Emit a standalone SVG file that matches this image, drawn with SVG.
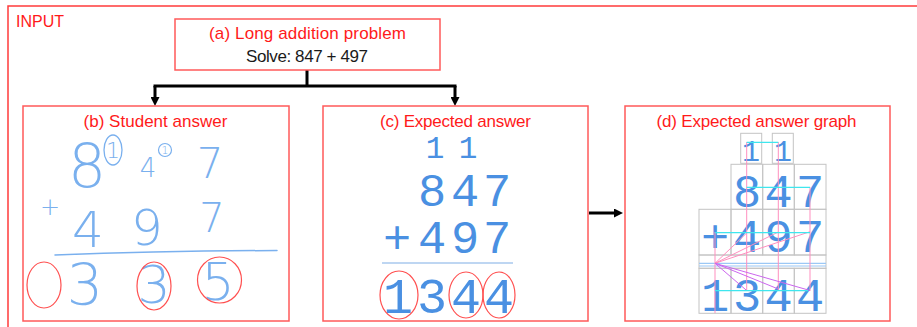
<svg xmlns="http://www.w3.org/2000/svg" width="917" height="327" viewBox="0 0 917 327">
<defs>
<style>
.frame{fill:none;stroke:#ff3b3b;stroke-width:1.5}
.box{fill:#fff;stroke:#ff5a5a;stroke-width:1.5}
.title{font-family:"Liberation Sans",Arial,sans-serif;font-size:17px;fill:#ff1a1a;text-anchor:middle}
.black{font-family:"Liberation Sans",Arial,sans-serif;font-size:17px;fill:#1a1a1a;text-anchor:middle}
.mono{font-family:"Liberation Mono","Courier New",monospace;fill:#4a90e2;text-anchor:middle}
.hand{font-family:"DejaVu Sans",sans-serif;font-weight:200;fill:#7ab0ee;text-anchor:middle}
.handline{fill:none;stroke:#7ab0ee;stroke-width:1.5;stroke-linecap:round}
.circ{fill:none;stroke:#ff5050;stroke-width:1.2}
.grid{fill:none;stroke:#c4c4c4;stroke-width:1}
.conn{fill:none;stroke:#000;stroke-width:3}
.pink{stroke:#ff8fbf;stroke-width:1;fill:none}
.cyan{stroke:#3fe6ee;stroke-width:1.2;fill:none}
.purple{stroke:#cc66ee;stroke-width:1;fill:none}
.lblue{stroke:#9cc8f5;stroke-width:1.2;fill:none}
</style>
<marker id="ah" viewBox="0 0 10 10" refX="0" refY="5" markerWidth="9" markerHeight="9" markerUnits="userSpaceOnUse" orient="auto">
<path d="M0,0 L10,5 L0,10 z" fill="#000"/>
</marker>
</defs>
<rect width="917" height="327" fill="#fff"/>
<g id="input-frame">
<rect class="frame" x="8" y="6" width="930" height="340"/>
<text x="16" y="27" font-family="Liberation Sans,Arial,sans-serif" font-size="16" fill="#ff1a1a">INPUT</text>
</g>

<g id="connectors">
<path class="conn" d="M307,70 V86 M153.5,86 H456.5"/>
<path class="conn" d="M155,86 V97" marker-end="url(#ah)"/>
<path class="conn" d="M455,86 V97" marker-end="url(#ah)"/>
<path class="conn" d="M589,213 H614" marker-end="url(#ah)"/>
</g>

<g id="node-a">
<rect class="box" x="175" y="19" width="265" height="51"/>
<text class="title" x="307.5" y="39" textLength="197">(a) Long addition problem</text>
<text class="black" x="307" y="62" textLength="122">Solve: 847 + 497</text>
</g>

<g id="node-b">
<rect class="box" x="23" y="106" width="266" height="215"/>
<text class="title" x="155.5" y="127" textLength="144">(b) Student answer</text>
<text class="hand" x="87" y="187" font-size="60">8</text>
<ellipse cx="113" cy="150" rx="9" ry="15" fill="none" stroke="#7ab0ee" stroke-width="1.3"/>
<text class="hand" x="113" y="158" font-size="22">1</text>
<text class="hand" x="148" y="177" font-size="26">4</text>
<circle cx="165" cy="150" r="6.5" fill="none" stroke="#7ab0ee" stroke-width="1.2"/>
<text class="hand" x="165" y="154" font-size="11">1</text>
<text class="hand" x="210" y="178" font-size="42">7</text>
<text class="hand" x="50" y="215" font-size="24">+</text>
<text class="hand" x="88" y="247" font-size="50">4</text>
<text class="hand" x="147" y="245" font-size="50">9</text>
<text class="hand" x="212" y="232" font-size="40">7</text>
<path class="handline" d="M55,255 Q160,251 277,250.5"/>
<text class="hand" x="85" y="305" font-size="57">3</text>
<text class="hand" x="154" y="303" font-size="52">3</text>
<text class="hand" x="218" y="300" font-size="52">5</text>
<ellipse class="circ" cx="44" cy="285" rx="17" ry="23"/>
<ellipse class="circ" cx="154" cy="286" rx="17" ry="24"/>
<ellipse class="circ" cx="219.5" cy="280" rx="22" ry="23"/>
</g>

<g id="node-c">
<rect class="box" x="323" y="106" width="265" height="215"/>
<text class="title" x="455.5" y="127" textLength="151">(c) Expected answer</text>
<text class="mono" x="435" y="158" font-size="31">1</text>
<text class="mono" x="468" y="158" font-size="31">1</text>
<text class="mono" x="432" y="206" font-size="47">8</text>
<text class="mono" x="465" y="206" font-size="47">4</text>
<text class="mono" x="497" y="206" font-size="47">7</text>
<text class="mono" x="397" y="253" font-size="47">+</text>
<text class="mono" x="432" y="253" font-size="47">4</text>
<text class="mono" x="465" y="253" font-size="47">9</text>
<text class="mono" x="497" y="253" font-size="47">7</text>
<line x1="382" y1="263" x2="513" y2="263" stroke="#a8c8ee" stroke-width="1.5"/>
<text class="mono" x="398" y="313" font-size="50">1</text>
<text class="mono" x="432" y="313" font-size="50">3</text>
<text class="mono" x="466" y="313" font-size="50">4</text>
<text class="mono" x="499" y="313" font-size="50">4</text>
<ellipse class="circ" cx="399" cy="295" rx="19" ry="24"/>
<ellipse class="circ" cx="466" cy="295" rx="17" ry="23"/>
<ellipse class="circ" cx="499" cy="295" rx="16" ry="23"/>
</g>

<g id="node-d">
<rect class="box" x="625" y="106" width="265" height="215"/>
<text class="title" x="756.5" y="127" textLength="200">(d) Expected answer graph</text>
<g class="grid">
<rect x="740.7" y="133.3" width="21" height="30"/>
<rect x="772.3" y="133.3" width="21" height="30"/>
<rect x="731" y="164.3" width="31.7" height="45"/>
<rect x="762.7" y="164.3" width="31.6" height="45"/>
<rect x="794.3" y="164.3" width="31.7" height="45"/>
<rect x="699" y="209.3" width="32" height="45.7"/>
<rect x="731" y="209.3" width="31.7" height="45.7"/>
<rect x="762.7" y="209.3" width="31.6" height="45.7"/>
<rect x="794.3" y="209.3" width="31.7" height="45.7"/>
<rect x="699" y="255" width="127" height="13.3"/>
<rect x="699" y="268.3" width="32" height="45"/>
<rect x="731" y="268.3" width="31.7" height="45"/>
<rect x="762.7" y="268.3" width="31.6" height="45"/>
<rect x="794.3" y="268.3" width="31.7" height="45"/>
</g>
<text class="mono" x="751" y="161" font-size="30">1</text>
<text class="mono" x="783" y="161" font-size="30">1</text>
<text class="mono" x="747" y="207" font-size="47">8</text>
<text class="mono" x="778.5" y="207" font-size="47">4</text>
<text class="mono" x="810" y="207" font-size="47">7</text>
<text class="mono" x="715" y="252" font-size="47">+</text>
<text class="mono" x="747" y="252" font-size="47">4</text>
<text class="mono" x="778.5" y="252" font-size="47">9</text>
<text class="mono" x="810" y="252" font-size="47">7</text>
<text class="mono" x="715" y="311" font-size="47">1</text>
<text class="mono" x="747" y="311" font-size="47">3</text>
<text class="mono" x="778.5" y="311" font-size="47">4</text>
<text class="mono" x="810" y="311" font-size="47">4</text>
<line class="lblue" x1="699" y1="263.3" x2="826" y2="263.3"/>
<line class="lblue" x1="699" y1="266" x2="826" y2="266"/>
<g class="pink">
<line x1="746.7" y1="142" x2="746.7" y2="291"/>
<line x1="778.3" y1="142" x2="778.3" y2="291"/>
<line x1="810" y1="187.3" x2="810" y2="291"/>
<line x1="715" y1="232" x2="715" y2="313"/>
<line x1="715" y1="263.3" x2="746.7" y2="233"/>
<line x1="715" y1="263.3" x2="778.3" y2="232"/>
<line x1="715" y1="263.3" x2="810" y2="231.7"/>
</g>
<g class="purple">
<line x1="715" y1="263.3" x2="746.7" y2="290.5"/>
<line x1="715" y1="263.3" x2="778.3" y2="289"/>
<line x1="715" y1="263.3" x2="810" y2="290.5"/>
</g>
<g class="cyan">
<line x1="746.7" y1="142.3" x2="778.3" y2="142.3"/>
<line x1="746.7" y1="187.3" x2="810" y2="187.3"/>
<line x1="715" y1="232.7" x2="810" y2="232.7"/>
<line x1="715" y1="290.7" x2="808" y2="290.7"/>
</g>
</g>
</svg>
